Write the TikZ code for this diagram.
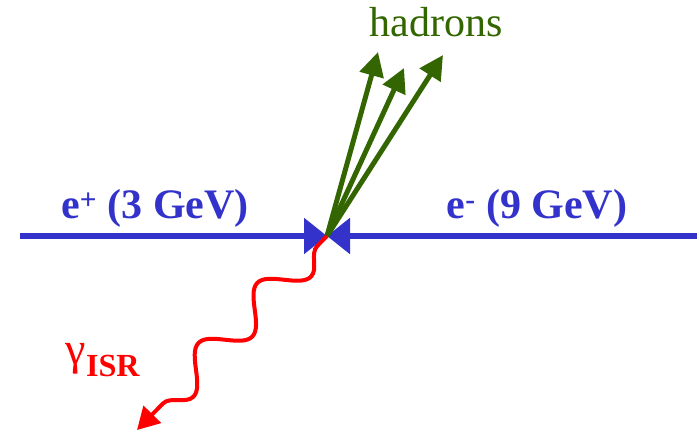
\documentclass[tikz,border=0pt]{standalone}
\usepackage{fontspec}
\setmainfont{Liberation Serif}
\newfontfamily\timesfont{Liberation Serif}
\usepackage{xcolor}
\definecolor{beamblue}{RGB}{51,51,204}
\definecolor{hadgreen}{RGB}{51,102,0}
\definecolor{isrred}{RGB}{255,0,0}
\usetikzlibrary{arrows.meta, positioning, decorations.pathmorphing}

\begin{document}
\begin{tikzpicture}[x=1pt, y=1pt,
  beam/.style={-{Triangle[length=23pt, width=35pt]}, line width=5.5pt, color=beamblue},
  had/.style={-{Triangle[length=24pt, width=24pt]}, line width=5pt, color=hadgreen},
  photon/.style={-{Triangle[length=22pt, width=24pt]}, line width=4pt, color=isrred,
                 decorate, decoration={snake, amplitude=17pt, segment length=84pt,
                 pre length=14pt, post length=20pt}},
  lbl/.style={font=\timesfont\fontsize{42}{46}\selectfont\bfseries, text=beamblue, inner sep=0pt}
]
\useasboundingbox (0,0) rectangle (697,-433);

% vertex and end points
\coordinate (v) at (327,-236);
\coordinate (bl) at (20,-236);
\coordinate (br) at (697,-236);
\coordinate (h1) at (378,-52);
\coordinate (h2) at (404,-68);
\coordinate (h3) at (443,-55);
\coordinate (g) at (137,-430);

% beams
\draw[beam] (bl) -- (v);
\draw[beam] (br) -- (v);

% hadrons
\draw[had] (v) -- (h1);
\draw[had] (v) -- (h2);
\draw[had] (v) -- (h3);

% ISR photon
\draw[photon] (v) -- (g);

% labels
\node[lbl] (ep) at (155,-208) {e\textsuperscript{+} (3 GeV)};
\node[lbl] (em) at (537,-208) {e\textsuperscript{-} (9 GeV)};
\node[font=\timesfont\fontsize{42}{46}\selectfont, text=hadgreen, inner sep=0pt] (hl) at (436,-22) {hadrons};
\node[font=\timesfont\fontsize{46}{50}\selectfont, text=isrred, inner sep=0pt] (gl) at (103,-360)
  {γ\textsubscript{\bfseries ISR}};
\end{tikzpicture}
\end{document}
